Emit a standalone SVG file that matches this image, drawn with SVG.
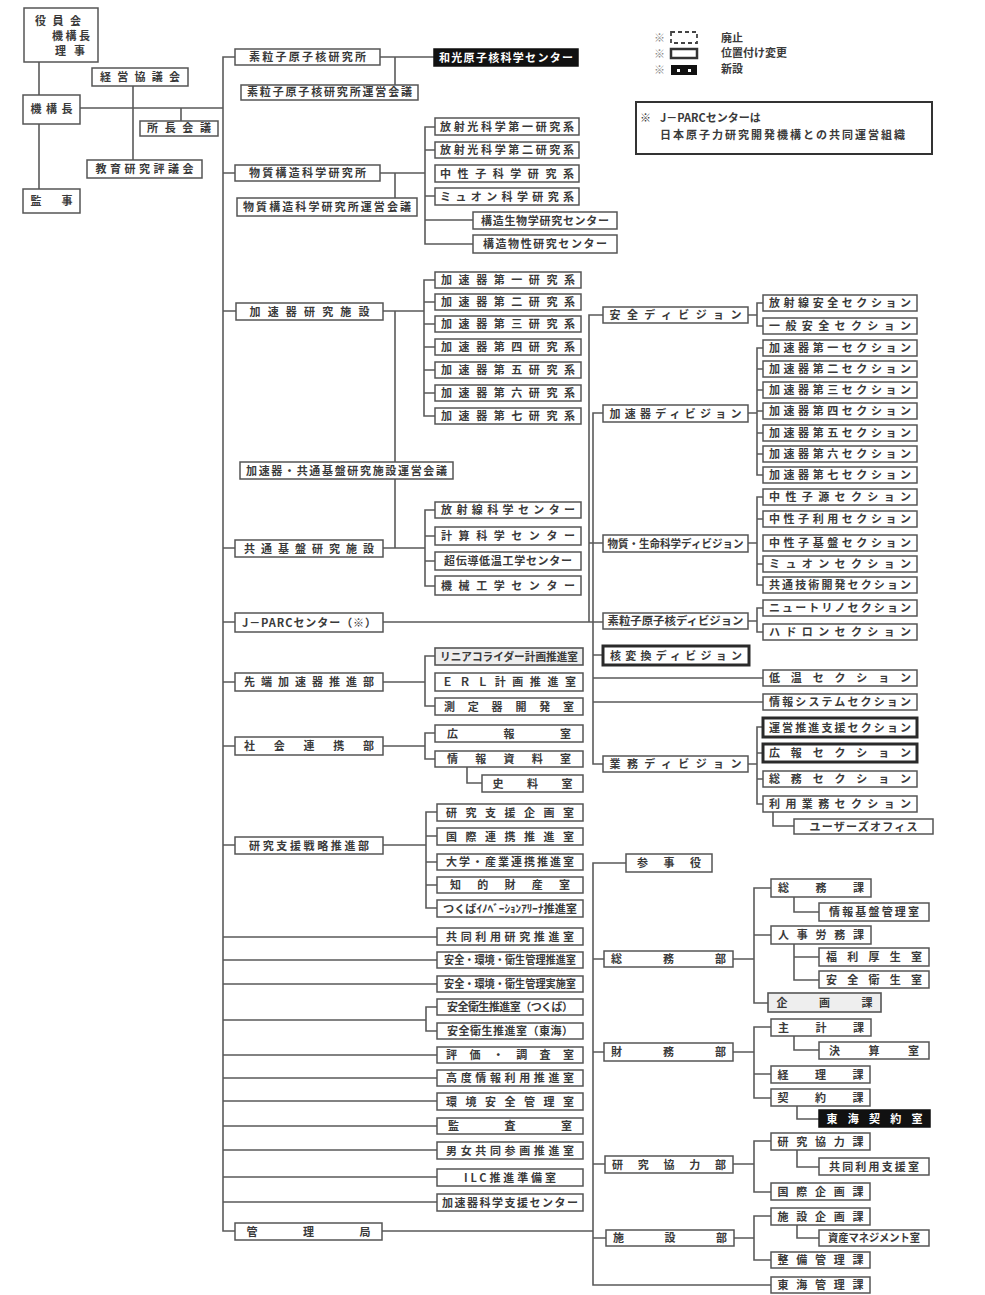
<svg xmlns="http://www.w3.org/2000/svg" width="985" height="1295" viewBox="0 0 985 1295">
<style>
.b{fill:#fff;stroke:#555;stroke-width:1.5}
.th{fill:#fff;stroke:#2a2a2a;stroke-width:3}
.g{fill:#eee;stroke:#555;stroke-width:1.6}
.k{fill:#111;stroke:#111;stroke-width:1.5}
.t{font-family:"Noto Sans CJK JP","Noto Sans",sans-serif;font-size:11px;font-weight:bold;fill:#3a3a3a;text-anchor:middle}
.s{font-family:"Noto Sans CJK JP","Noto Sans",sans-serif;font-size:11px;font-weight:bold;fill:#3a3a3a}
.c{fill:none;stroke:#5a5a5a;stroke-width:1.6}
</style>
<rect width="985" height="1295" fill="#fff"/>
<g id="connectors" class="c">
<path d="M39 62V189M80 108H223M133 86V160M181 108V121"/>
<path d="M235 57H223V1231H235M223 173H235M223 311H236M223 548H235M223 622H235M223 682H235M223 746H235M223 845H235"/>
<path d="M380 57H434M395 57V85"/>
<path d="M380 173H425M395 173V198M435 127H425V244H473M425 150H435M425 196H435M425 220H473"/>
<path d="M383 311H424M435 280H424V416H435M424 302H435M424 324H435M424 347H435M424 370H435M424 393H435M395 311V548"/>
<path d="M383 548H425M435 510H425V586H435M425 536H435M425 561H435"/>
<path d="M383 622H603M603 315H589V622M603 413H593V764H603M589 543H603M593 655H603M593 678H763M593 702H763"/>
<path d="M748 315H757M763 303H757V326H763"/>
<path d="M748 413H757M763 348H757V475H763M757 369H763M757 390H763M757 411H763M757 433H763M757 454H763"/>
<path d="M748 543H757M763 497H757V585H763M757 519H763M757 564H763"/>
<path d="M748 621H757M763 608H757V632H763"/>
<path d="M748 764H757M763 727H757V804H763M757 753H763M757 779H763M773 812V826H794"/>
<path d="M383 682H425M435 656H425V706H435"/>
<path d="M383 746H425M435 733H425V759H435M467 767V783H482"/>
<path d="M383 845H426M437 812H426V908H437M426 836H437M426 862H437M426 885H437"/>
<path d="M223 937H437M223 960H437M223 984H437M223 1020H426M437 1007H426V1031H437M223 1055H437M223 1078H437M223 1101H437M223 1126H437M223 1150H437M223 1177H437M223 1202H437"/>
<path d="M382 1231H593M626 863H593V1285H771M593 959H604M593 1052H604M593 1164H605M593 1238H606"/>
<path d="M733 959H754M771 888H754V1003H768M754 935H771M794 897V912H819M794 944V980H819M794 957H819"/>
<path d="M733 1052H754M771 1027H754V1098H771M754 1074H771M794 1036V1050H819M797 1106V1119H819"/>
<path d="M733 1164H754M771 1141H754V1192H771M797 1150V1167H819"/>
<path d="M734 1238H754M771 1216H754V1260H771M797 1225V1238H819"/>
</g>
<g id="legend">
<text class="s" x="654" y="42" style="fill:#888">※</text>
<text class="s" x="654" y="58" style="fill:#888">※</text>
<text class="s" x="654" y="74" style="fill:#888">※</text>
<rect x="671" y="32" width="26" height="11" fill="#fff" stroke="#444" stroke-width="1.8" stroke-dasharray="4 3"/>
<rect x="671" y="49" width="26" height="9" fill="#fff" stroke="#333" stroke-width="2.5"/>
<rect x="671" y="65" width="26" height="10" fill="#111"/>
<rect x="677" y="69" width="3" height="3" fill="#fff"/>
<rect x="688" y="69" width="3" height="3" fill="#fff"/>
<text class="s" x="721" y="42">廃止</text>
<text class="s" x="721" y="57">位置付け変更</text>
<text class="s" x="721" y="73">新設</text>
</g>
<g id="note">
<rect x="636" y="102" width="296" height="52" fill="#fff" stroke="#333" stroke-width="2"/>
<text class="s" x="640" y="122">※</text>
<text class="s" x="660" y="122">J－PARCセンターは</text>
<text class="s" x="660" y="139" textLength="245">日本原子力研究開発機構との共同運営組織</text>
</g>
<g id="n_yakuin"><rect class="b" x="24" y="8" width="74" height="54"/><text class="t" x="58" y="25" textLength="46">役員会</text><text class="t" x="71" y="40" textLength="38">機構長</text><text class="t" x="70" y="55" textLength="30">理事</text></g>
<g id="n_kikoucho"><rect class="b" x="23" y="95" width="57" height="29"/><text class="t" x="51.5" y="113" textLength="42">機構長</text></g>
<g id="n_kanji"><rect class="b" x="23" y="189" width="57" height="24"/><text class="t" x="51.5" y="205" textLength="42">監事</text></g>
<g id="n_keiei"><rect class="b" x="92" y="68" width="96" height="18"/><text class="t" x="140" y="81" textLength="80">経営協議会</text></g>
<g id="n_kyoiku"><rect class="b" x="87" y="160" width="115" height="18"/><text class="t" x="144.5" y="173" textLength="98">教育研究評議会</text></g>
<g id="n_shocho"><rect class="b" x="140" y="121" width="78" height="15"/><text class="t" x="179" y="132" textLength="64">所長会議</text></g>
<g id="n_ipns"><rect class="b" x="235" y="49" width="145" height="16"/><text class="t" x="307.5" y="61" textLength="117">素粒子原子核研究所</text></g>
<g id="n_ipns_kaigi"><rect class="b" x="241" y="85" width="177" height="15"/><text class="t" x="329.5" y="96" textLength="165">素粒子原子核研究所運営会議</text></g>
<g id="n_wako"><rect class="k" x="434" y="49" width="144" height="17"/><text class="t" x="506" y="61.5" textLength="134" style="fill:#fff">和光原子核科学センター</text></g>
<g id="n_imss"><rect class="b" x="235" y="165" width="145" height="16"/><text class="t" x="307.5" y="177" textLength="117">物質構造科学研究所</text></g>
<g id="n_imss_kaigi"><rect class="b" x="237" y="198" width="180" height="18"/><text class="t" x="327" y="211" textLength="168">物質構造科学研究所運営会議</text></g>
<g id="n_pf1"><rect class="b" x="435" y="118" width="144" height="17"/><text class="t" x="507" y="130.5" textLength="134">放射光科学第一研究系</text></g>
<g id="n_pf2"><rect class="b" x="435" y="142" width="144" height="16"/><text class="t" x="507" y="154" textLength="134">放射光科学第二研究系</text></g>
<g id="n_neu"><rect class="b" x="435" y="165" width="144" height="17"/><text class="t" x="507" y="177.5" textLength="134">中性子科学研究系</text></g>
<g id="n_muon"><rect class="b" x="435" y="188" width="144" height="17"/><text class="t" x="507" y="200.5" textLength="134">ミュオン科学研究系</text></g>
<g id="n_sbrc"><rect class="b" x="473" y="212" width="144" height="17"/><text class="t" x="545" y="224.5" textLength="128">構造生物学研究センター</text></g>
<g id="n_cmrc"><rect class="b" x="473" y="235" width="144" height="18"/><text class="t" x="545" y="248" textLength="124">構造物性研究センター</text></g>
<g id="n_acc"><rect class="b" x="236" y="303" width="147" height="17"/><text class="t" x="309.5" y="315.5" textLength="120">加速器研究施設</text></g>
<g id="n_acc1"><rect class="b" x="435" y="272" width="146" height="16"/><text class="t" x="508" y="284" textLength="134">加速器第一研究系</text></g>
<g id="n_acc2"><rect class="b" x="435" y="294" width="146" height="16"/><text class="t" x="508" y="306" textLength="134">加速器第二研究系</text></g>
<g id="n_acc3"><rect class="b" x="435" y="316" width="146" height="16"/><text class="t" x="508" y="328" textLength="134">加速器第三研究系</text></g>
<g id="n_acc4"><rect class="b" x="435" y="339" width="146" height="16"/><text class="t" x="508" y="351" textLength="134">加速器第四研究系</text></g>
<g id="n_acc5"><rect class="b" x="435" y="362" width="146" height="16"/><text class="t" x="508" y="374" textLength="134">加速器第五研究系</text></g>
<g id="n_acc6"><rect class="b" x="435" y="385" width="146" height="16"/><text class="t" x="508" y="397" textLength="134">加速器第六研究系</text></g>
<g id="n_acc7"><rect class="b" x="435" y="408" width="146" height="16"/><text class="t" x="508" y="420" textLength="134">加速器第七研究系</text></g>
<g id="n_acc_kaigi"><rect class="b" x="240" y="462" width="213" height="17"/><text class="t" x="346.5" y="474.5" textLength="201">加速器・共通基盤研究施設運営会議</text></g>
<g id="n_arl"><rect class="b" x="235" y="540" width="148" height="17"/><text class="t" x="309" y="552.5" textLength="130">共通基盤研究施設</text></g>
<g id="n_rsc"><rect class="b" x="435" y="502" width="146" height="16"/><text class="t" x="508" y="514" textLength="134">放射線科学センター</text></g>
<g id="n_csc"><rect class="b" x="435" y="527" width="146" height="18"/><text class="t" x="508" y="540" textLength="134">計算科学センター</text></g>
<g id="n_crc"><rect class="b" x="435" y="552" width="146" height="18"/><text class="t" x="508" y="565" textLength="128">超伝導低温工学センター</text></g>
<g id="n_mec"><rect class="b" x="435" y="576" width="146" height="19"/><text class="t" x="508" y="589.5" textLength="134">機械工学センター</text></g>
<g id="n_jparc"><rect class="b" x="235" y="613" width="148" height="19"/><text class="t" x="309" y="626.5" textLength="134">J－PARCセンター（※）</text></g>
<g id="n_sentan"><rect class="b" x="235" y="673" width="148" height="18"/><text class="t" x="309" y="686" textLength="130">先端加速器推進部</text></g>
<g id="n_lc"><rect class="g" x="435" y="648" width="148" height="17"/><text class="t" x="509" y="660.5" textLength="138" lengthAdjust="spacingAndGlyphs">リニアコライダー計画推進室</text></g>
<g id="n_erl"><rect class="b" x="435" y="673" width="148" height="18"/><text class="t" x="509" y="686" textLength="134">ＥＲＬ計画推進室</text></g>
<g id="n_det"><rect class="b" x="435" y="698" width="148" height="17"/><text class="t" x="509" y="710.5" textLength="130">測定器開発室</text></g>
<g id="n_shakai"><rect class="b" x="235" y="737" width="148" height="18"/><text class="t" x="309" y="750" textLength="130">社会連携部</text></g>
<g id="n_koho"><rect class="b" x="435" y="725" width="148" height="17"/><text class="t" x="509" y="737.5" textLength="124">広報室</text></g>
<g id="n_joho"><rect class="b" x="435" y="751" width="148" height="16"/><text class="t" x="509" y="763" textLength="124">情報資料室</text></g>
<g id="n_shiryo"><rect class="b" x="482" y="775" width="101" height="17"/><text class="t" x="532.5" y="787.5" textLength="80">史料室</text></g>
<g id="n_senryaku"><rect class="b" x="235" y="837" width="148" height="17"/><text class="t" x="309" y="849.5" textLength="120">研究支援戦略推進部</text></g>
<g id="n_kikaku"><rect class="b" x="437" y="804" width="146" height="17"/><text class="t" x="510" y="816.5" textLength="128">研究支援企画室</text></g>
<g id="n_kokusai"><rect class="b" x="437" y="828" width="146" height="17"/><text class="t" x="510" y="840.5" textLength="128">国際連携推進室</text></g>
<g id="n_daigaku"><rect class="b" x="437" y="854" width="146" height="16"/><text class="t" x="510" y="866" textLength="128">大学・産業連携推進室</text></g>
<g id="n_chiteki"><rect class="b" x="437" y="877" width="146" height="16"/><text class="t" x="510" y="889" textLength="120">知的財産室</text></g>
<g id="n_tia"><rect class="b" x="437" y="900" width="146" height="17"/><text class="t" x="510" y="912.5" textLength="134" lengthAdjust="spacingAndGlyphs">つくばｲﾉﾍﾞｰｼｮﾝｱﾘｰﾅ推進室</text></g>
<g id="n_kyodo"><rect class="b" x="437" y="928" width="146" height="17"/><text class="t" x="510" y="940.5" textLength="128">共同利用研究推進室</text></g>
<g id="n_anzen1"><rect class="b" x="437" y="952" width="146" height="16"/><text class="t" x="510" y="964" textLength="132" lengthAdjust="spacingAndGlyphs">安全・環境・衛生管理推進室</text></g>
<g id="n_anzen2"><rect class="b" x="437" y="976" width="146" height="16"/><text class="t" x="510" y="988" textLength="132" lengthAdjust="spacingAndGlyphs">安全・環境・衛生管理実施室</text></g>
<g id="n_eisei_t"><rect class="b" x="437" y="999" width="146" height="16"/><text class="t" x="510" y="1011" textLength="126">安全衛生推進室（つくば）</text></g>
<g id="n_eisei_k"><rect class="b" x="437" y="1023" width="146" height="16"/><text class="t" x="510" y="1035" textLength="126">安全衛生推進室（東海）</text></g>
<g id="n_hyoka"><rect class="b" x="437" y="1047" width="146" height="16"/><text class="t" x="510" y="1059" textLength="128">評価・調査室</text></g>
<g id="n_kodo"><rect class="b" x="437" y="1070" width="146" height="16"/><text class="t" x="510" y="1082" textLength="128">高度情報利用推進室</text></g>
<g id="n_kankyo"><rect class="b" x="437" y="1093" width="146" height="17"/><text class="t" x="510" y="1105.5" textLength="128">環境安全管理室</text></g>
<g id="n_kansa"><rect class="b" x="437" y="1118" width="146" height="16"/><text class="t" x="510" y="1130" textLength="124">監査室</text></g>
<g id="n_danjo"><rect class="b" x="437" y="1142" width="146" height="17"/><text class="t" x="510" y="1154.5" textLength="128">男女共同参画推進室</text></g>
<g id="n_ilc"><rect class="b" x="437" y="1169" width="146" height="17"/><text class="t" x="510" y="1181.5" textLength="92">ILC推進準備室</text></g>
<g id="n_kasoku_shien"><rect class="b" x="437" y="1194" width="146" height="17"/><text class="t" x="510" y="1206.5" textLength="136">加速器科学支援センター</text></g>
<g id="n_kanri"><rect class="b" x="235" y="1223" width="147" height="17"/><text class="t" x="308.5" y="1235.5" textLength="124">管理局</text></g>
<g id="d_anzen"><rect class="b" x="603" y="307" width="145" height="16"/><text class="t" x="675.5" y="319" textLength="132">安全ディビジョン</text></g>
<g id="d_acc"><rect class="b" x="603" y="405" width="145" height="17"/><text class="t" x="675.5" y="417.5" textLength="132">加速器ディビジョン</text></g>
<g id="d_mlf"><rect class="b" x="603" y="535" width="145" height="17"/><text class="t" x="675.5" y="547.5" textLength="136" lengthAdjust="spacingAndGlyphs">物質・生命科学ディビジョン</text></g>
<g id="d_pn"><rect class="b" x="603" y="613" width="145" height="16"/><text class="t" x="675.5" y="625" textLength="136" lengthAdjust="spacingAndGlyphs">素粒子原子核ディビジョン</text></g>
<g id="d_kaku"><rect class="th" x="603" y="646" width="146" height="19"/><text class="t" x="676" y="659.5" textLength="132">核変換ディビジョン</text></g>
<g id="d_gyomu"><rect class="b" x="603" y="756" width="145" height="16"/><text class="t" x="675.5" y="768" textLength="132">業務ディビジョン</text></g>
<g id="s_rad"><rect class="b" x="763" y="295" width="154" height="16"/><text class="t" x="840" y="307" textLength="142">放射線安全セクション</text></g>
<g id="s_gen"><rect class="b" x="763" y="318" width="154" height="16"/><text class="t" x="840" y="330" textLength="142">一般安全セクション</text></g>
<g id="s_a1"><rect class="b" x="763" y="340" width="154" height="16"/><text class="t" x="840" y="352" textLength="142">加速器第一セクション</text></g>
<g id="s_a2"><rect class="b" x="763" y="361" width="154" height="16"/><text class="t" x="840" y="373" textLength="142">加速器第二セクション</text></g>
<g id="s_a3"><rect class="b" x="763" y="382" width="154" height="16"/><text class="t" x="840" y="394" textLength="142">加速器第三セクション</text></g>
<g id="s_a4"><rect class="b" x="763" y="403" width="154" height="16"/><text class="t" x="840" y="415" textLength="142">加速器第四セクション</text></g>
<g id="s_a5"><rect class="b" x="763" y="425" width="154" height="16"/><text class="t" x="840" y="437" textLength="142">加速器第五セクション</text></g>
<g id="s_a6"><rect class="b" x="763" y="446" width="154" height="16"/><text class="t" x="840" y="458" textLength="142">加速器第六セクション</text></g>
<g id="s_a7"><rect class="b" x="763" y="467" width="154" height="16"/><text class="t" x="840" y="479" textLength="142">加速器第七セクション</text></g>
<g id="s_ns"><rect class="b" x="763" y="489" width="154" height="16"/><text class="t" x="840" y="501" textLength="142">中性子源セクション</text></g>
<g id="s_nu"><rect class="b" x="763" y="511" width="154" height="16"/><text class="t" x="840" y="523" textLength="142">中性子利用セクション</text></g>
<g id="s_nb"><rect class="b" x="763" y="535" width="154" height="16"/><text class="t" x="840" y="547" textLength="142">中性子基盤セクション</text></g>
<g id="s_mu"><rect class="b" x="763" y="556" width="154" height="16"/><text class="t" x="840" y="568" textLength="142">ミュオンセクション</text></g>
<g id="s_tech"><rect class="b" x="763" y="577" width="154" height="16"/><text class="t" x="840" y="589" textLength="142">共通技術開発セクション</text></g>
<g id="s_nutrino"><rect class="b" x="763" y="600" width="154" height="16"/><text class="t" x="840" y="612" textLength="142">ニュートリノセクション</text></g>
<g id="s_hadron"><rect class="b" x="763" y="624" width="154" height="16"/><text class="t" x="840" y="636" textLength="142">ハドロンセクション</text></g>
<g id="s_cryo"><rect class="b" x="763" y="670" width="154" height="16"/><text class="t" x="840" y="682" textLength="142">低温セクション</text></g>
<g id="s_info"><rect class="b" x="763" y="694" width="154" height="16"/><text class="t" x="840" y="706" textLength="142">情報システムセクション</text></g>
<g id="s_unei"><rect class="th" x="763" y="718" width="154" height="19"/><text class="t" x="840" y="731.5" textLength="142">運営推進支援セクション</text></g>
<g id="s_koho"><rect class="th" x="763" y="744" width="154" height="18"/><text class="t" x="840" y="757" textLength="142">広報セクション</text></g>
<g id="s_somu"><rect class="b" x="763" y="771" width="154" height="16"/><text class="t" x="840" y="783" textLength="142">総務セクション</text></g>
<g id="s_riyo"><rect class="b" x="763" y="796" width="154" height="16"/><text class="t" x="840" y="808" textLength="142">利用業務セクション</text></g>
<g id="s_users"><rect class="b" x="794" y="819" width="139" height="15"/><text class="t" x="863.5" y="830.5" textLength="108">ユーザーズオフィス</text></g>
<g id="k_sanji"><rect class="b" x="626" y="854" width="86" height="18"/><text class="t" x="669" y="867" textLength="64">参事役</text></g>
<g id="k_somubu"><rect class="b" x="604" y="951" width="129" height="16"/><text class="t" x="668.5" y="963" textLength="115">総務部</text></g>
<g id="k_zaimubu"><rect class="b" x="604" y="1043" width="129" height="18"/><text class="t" x="668.5" y="1056" textLength="115">財務部</text></g>
<g id="k_kenkyobu"><rect class="b" x="605" y="1156" width="128" height="17"/><text class="t" x="669" y="1168.5" textLength="114">研究協力部</text></g>
<g id="k_shisetsubu"><rect class="b" x="606" y="1230" width="128" height="16"/><text class="t" x="670" y="1242" textLength="114">施設部</text></g>
<g id="k_somuka"><rect class="b" x="771" y="879" width="100" height="18"/><text class="t" x="821" y="892" textLength="86">総務課</text></g>
<g id="k_jokiban"><rect class="b" x="819" y="903" width="110" height="18"/><text class="t" x="874" y="916" textLength="90">情報基盤管理室</text></g>
<g id="k_jinji"><rect class="b" x="771" y="926" width="100" height="18"/><text class="t" x="821" y="939" textLength="86">人事労務課</text></g>
<g id="k_fukuri"><rect class="b" x="819" y="948" width="110" height="18"/><text class="t" x="874" y="961" textLength="96">福利厚生室</text></g>
<g id="k_anzeneisei"><rect class="b" x="819" y="971" width="110" height="17"/><text class="t" x="874" y="983.5" textLength="96">安全衛生室</text></g>
<g id="k_kikakuka"><rect class="g" x="768" y="993" width="113" height="19"/><text class="t" x="824.5" y="1006.5" textLength="96">企画課</text></g>
<g id="k_shukei"><rect class="b" x="771" y="1019" width="100" height="17"/><text class="t" x="821" y="1031.5" textLength="86">主計課</text></g>
<g id="k_kessan"><rect class="b" x="819" y="1042" width="110" height="17"/><text class="t" x="874" y="1054.5" textLength="90">決算室</text></g>
<g id="k_keiri"><rect class="b" x="771" y="1066" width="99" height="17"/><text class="t" x="820.5" y="1078.5" textLength="86">経理課</text></g>
<g id="k_keiyaku"><rect class="b" x="771" y="1089" width="99" height="17"/><text class="t" x="820.5" y="1101.5" textLength="86">契約課</text></g>
<g id="k_tokai_keiyaku"><rect class="k" x="819" y="1110" width="111" height="17"/><text class="t" x="874.5" y="1122.5" textLength="96" style="fill:#fff">東海契約室</text></g>
<g id="k_kenkyoka"><rect class="b" x="771" y="1133" width="99" height="17"/><text class="t" x="820.5" y="1145.5" textLength="86">研究協力課</text></g>
<g id="k_kyodoshien"><rect class="b" x="819" y="1158" width="110" height="17"/><text class="t" x="874" y="1170.5" textLength="90">共同利用支援室</text></g>
<g id="k_kokusaikikaku"><rect class="b" x="771" y="1183" width="99" height="17"/><text class="t" x="820.5" y="1195.5" textLength="86">国際企画課</text></g>
<g id="k_shisetsukikaku"><rect class="b" x="771" y="1208" width="99" height="17"/><text class="t" x="820.5" y="1220.5" textLength="86">施設企画課</text></g>
<g id="k_shisan"><rect class="b" x="819" y="1230" width="110" height="16"/><text class="t" x="874" y="1242" textLength="92" lengthAdjust="spacingAndGlyphs">資産マネジメント室</text></g>
<g id="k_seibi"><rect class="b" x="771" y="1252" width="99" height="16"/><text class="t" x="820.5" y="1264" textLength="86">整備管理課</text></g>
<g id="k_tokaikanri"><rect class="b" x="771" y="1277" width="99" height="16"/><text class="t" x="820.5" y="1289" textLength="86">東海管理課</text></g>
</svg>
